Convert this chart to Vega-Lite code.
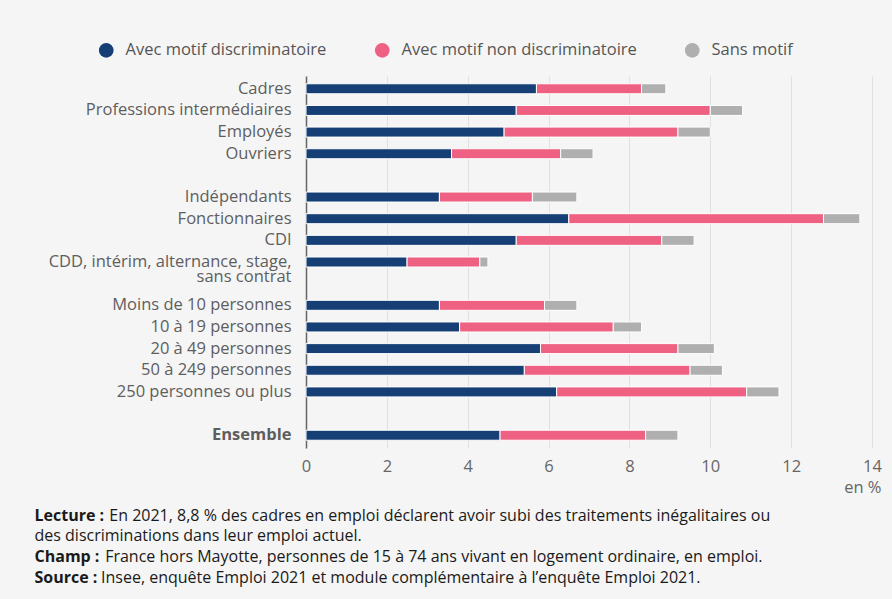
{
  "$schema": "https://vega.github.io/schema/vega-lite/v6.json",
  "autosize": {"type": "none"},
  "width": 566,
  "height": 372,
  "padding": {"left": 306, "top": 76, "right": 20, "bottom": 151},
  "background": "#f5f5f5",
  "config": {
    "view": {"stroke": null},
    "font": "Open Sans"
  },
  "data": {
    "values": [
      {"cat": "Cadres", "type": "Avec motif discriminatoire", "o": 1, "value": 5.7},
      {"cat": "Cadres", "type": "Avec motif non discriminatoire", "o": 2, "value": 2.6},
      {"cat": "Cadres", "type": "Sans motif", "o": 3, "value": 0.6},
      {"cat": "Professions intermédiaires", "type": "Avec motif discriminatoire", "o": 1, "value": 5.2},
      {"cat": "Professions intermédiaires", "type": "Avec motif non discriminatoire", "o": 2, "value": 4.8},
      {"cat": "Professions intermédiaires", "type": "Sans motif", "o": 3, "value": 0.8},
      {"cat": "Employés", "type": "Avec motif discriminatoire", "o": 1, "value": 4.9},
      {"cat": "Employés", "type": "Avec motif non discriminatoire", "o": 2, "value": 4.3},
      {"cat": "Employés", "type": "Sans motif", "o": 3, "value": 0.8},
      {"cat": "Ouvriers", "type": "Avec motif discriminatoire", "o": 1, "value": 3.6},
      {"cat": "Ouvriers", "type": "Avec motif non discriminatoire", "o": 2, "value": 2.7},
      {"cat": "Ouvriers", "type": "Sans motif", "o": 3, "value": 0.8},
      {"cat": "Indépendants", "type": "Avec motif discriminatoire", "o": 1, "value": 3.3},
      {"cat": "Indépendants", "type": "Avec motif non discriminatoire", "o": 2, "value": 2.3},
      {"cat": "Indépendants", "type": "Sans motif", "o": 3, "value": 1.1},
      {"cat": "Fonctionnaires", "type": "Avec motif discriminatoire", "o": 1, "value": 6.5},
      {"cat": "Fonctionnaires", "type": "Avec motif non discriminatoire", "o": 2, "value": 6.3},
      {"cat": "Fonctionnaires", "type": "Sans motif", "o": 3, "value": 0.9},
      {"cat": "CDI", "type": "Avec motif discriminatoire", "o": 1, "value": 5.2},
      {"cat": "CDI", "type": "Avec motif non discriminatoire", "o": 2, "value": 3.6},
      {"cat": "CDI", "type": "Sans motif", "o": 3, "value": 0.8},
      {"cat": "CDD, intérim, alternance, stage, sans contrat", "type": "Avec motif discriminatoire", "o": 1, "value": 2.5},
      {"cat": "CDD, intérim, alternance, stage, sans contrat", "type": "Avec motif non discriminatoire", "o": 2, "value": 1.8},
      {"cat": "CDD, intérim, alternance, stage, sans contrat", "type": "Sans motif", "o": 3, "value": 0.2},
      {"cat": "Moins de 10 personnes", "type": "Avec motif discriminatoire", "o": 1, "value": 3.3},
      {"cat": "Moins de 10 personnes", "type": "Avec motif non discriminatoire", "o": 2, "value": 2.6},
      {"cat": "Moins de 10 personnes", "type": "Sans motif", "o": 3, "value": 0.8},
      {"cat": "10 à 19 personnes", "type": "Avec motif discriminatoire", "o": 1, "value": 3.8},
      {"cat": "10 à 19 personnes", "type": "Avec motif non discriminatoire", "o": 2, "value": 3.8},
      {"cat": "10 à 19 personnes", "type": "Sans motif", "o": 3, "value": 0.7},
      {"cat": "20 à 49 personnes", "type": "Avec motif discriminatoire", "o": 1, "value": 5.8},
      {"cat": "20 à 49 personnes", "type": "Avec motif non discriminatoire", "o": 2, "value": 3.4},
      {"cat": "20 à 49 personnes", "type": "Sans motif", "o": 3, "value": 0.9},
      {"cat": "50 à 249 personnes", "type": "Avec motif discriminatoire", "o": 1, "value": 5.4},
      {"cat": "50 à 249 personnes", "type": "Avec motif non discriminatoire", "o": 2, "value": 4.1},
      {"cat": "50 à 249 personnes", "type": "Sans motif", "o": 3, "value": 0.8},
      {"cat": "250 personnes ou plus", "type": "Avec motif discriminatoire", "o": 1, "value": 6.2},
      {"cat": "250 personnes ou plus", "type": "Avec motif non discriminatoire", "o": 2, "value": 4.7},
      {"cat": "250 personnes ou plus", "type": "Sans motif", "o": 3, "value": 0.8},
      {"cat": "Ensemble", "type": "Avec motif discriminatoire", "o": 1, "value": 4.8},
      {"cat": "Ensemble", "type": "Avec motif non discriminatoire", "o": 2, "value": 3.6},
      {"cat": "Ensemble", "type": "Sans motif", "o": 3, "value": 0.8}
    ]
  },
  "layer": [
    {
      "mark": {"type": "bar", "size": 10, "stroke": "#ffffff", "strokeWidth": 1},
      "encoding": {
        "y": {
          "field": "cat",
          "type": "nominal",
          "scale": {
            "domain": ["Cadres", "Professions intermédiaires", "Employés", "Ouvriers", " ",
              "Indépendants", "Fonctionnaires", "CDI", "CDD, intérim, alternance, stage, sans contrat", "  ",
              "Moins de 10 personnes", "10 à 19 personnes", "20 à 49 personnes", "50 à 249 personnes", "250 personnes ou plus", "   ",
              "Ensemble"],
            "paddingInner": 0,
            "paddingOuter": 0.09
          },
          "axis": {
            "orient": "left",
            "domain": true,
            "domainColor": "#666666",
            "domainWidth": 1.5,
            "ticks": false,
            "grid": false,
            "labelPadding": 15,
            "labelFont": "Open Sans",
            "labelFontSize": 16.5,
            "labelColor": "#5e5e5e",
            "labelLimit": 400,
            "labelLineHeight": 15,
            "labelExpr": "datum.value == 'CDD, intérim, alternance, stage, sans contrat' ? ['CDD, intérim, alternance, stage,', 'sans contrat'] : datum.label",
            "labelFontWeight": {"condition": {"test": "datum.value == 'Ensemble'", "value": "bold"}, "value": "normal"},
            "title": ["Lecture :", "\u200b", "Champ :", "Source :"],
            "titleAngle": 0,
            "titleAlign": "left",
            "titleBaseline": "alphabetic",
            "titleX": -272,
            "titleY": 444,
            "titleLineHeight": 20.8,
            "titleFont": "Open Sans",
            "titleFontSize": 16,
            "titleFontWeight": "bold",
            "titleColor": "#1a1a1a"
          }
        },
        "x": {
          "field": "value",
          "type": "quantitative",
          "stack": "zero",
          "scale": {"domain": [0, 14], "nice": false},
          "axis": {
            "values": [0, 2, 4, 6, 8, 10, 12, 14],
            "domain": false,
            "ticks": false,
            "grid": true,
            "gridColor": "#e0e0e0",
            "gridWidth": 1,
            "labelFlush": false,
            "labelPadding": 10,
            "labelFont": "Open Sans",
            "labelFontSize": 16.5,
            "labelColor": "#666666",
            "title": "en %",
            "titleFont": "Open Sans",
            "titleFontSize": 16.5,
            "titleFontWeight": "normal",
            "titleColor": "#666666",
            "titleAlign": "right",
            "titleBaseline": "middle",
            "titleX": 575,
            "titleY": 39
          }
        },
        "color": {
          "field": "type",
          "type": "nominal",
          "scale": {
            "domain": ["Avec motif discriminatoire", "Avec motif non discriminatoire", "Sans motif"],
            "range": ["#153f75", "#ee6182", "#b0afaf"]
          },
          "legend": {
            "orient": "none",
            "direction": "horizontal",
            "legendX": -208,
            "legendY": -34,
            "title": null,
            "symbolType": "circle",
            "symbolSize": 215,
            "symbolStrokeWidth": 0,
            "labelFont": "Open Sans",
            "labelFontSize": 16.5,
            "labelColor": "#555555",
            "labelOffset": 11,
            "columnPadding": 47,
            "labelLimit": 400,
            "padding": 0
          }
        },
        "order": {"field": "o", "type": "quantitative"}
      }
    },
    {
      "mark": {"type": "point", "opacity": 0},
      "encoding": {
        "y": {
          "field": "cat",
          "type": "nominal",
          "axis": {
            "orient": "right",
            "domain": false,
            "ticks": false,
            "labels": false,
            "grid": false,
            "title": [
              "\u200b\u00a0\u00a0\u00a0\u00a0\u00a0\u00a0\u00a0\u00a0\u00a0\u00a0\u00a0\u00a0\u00a0\u00a0\u00a0\u00a0\u00a0\u00a0En 2021, 8,8 % des cadres en emploi déclarent avoir subi des traitements inégalitaires ou",
              "des discriminations dans leur emploi actuel.",
              "\u200b\u00a0\u00a0\u00a0\u00a0\u00a0\u00a0\u00a0\u00a0\u00a0\u00a0\u00a0\u00a0\u00a0\u00a0\u00a0\u00a0\u00a0France hors Mayotte, personnes de 15 à 74 ans vivant en logement ordinaire, en emploi.",
              "\u200b\u00a0\u00a0\u00a0\u00a0\u00a0\u00a0\u00a0\u00a0\u00a0\u00a0\u00a0\u00a0\u00a0\u00a0\u00a0\u00a0Insee, enquête Emploi 2021 et module complémentaire à l’enquête Emploi 2021."
            ],
            "titleAngle": 0,
            "titleAlign": "left",
            "titleBaseline": "alphabetic",
            "titleX": -838,
            "titleY": 444,
            "titleLineHeight": 20.8,
            "titleFont": "Open Sans",
            "titleFontSize": 16,
            "titleFontWeight": "normal",
            "titleColor": "#1a1a1a"
          }
        },
        "x": {"datum": 0, "type": "quantitative"}
      }
    }
  ],
  "resolve": {"scale": {"y": "independent"}, "axis": {"y": "independent"}}
}
